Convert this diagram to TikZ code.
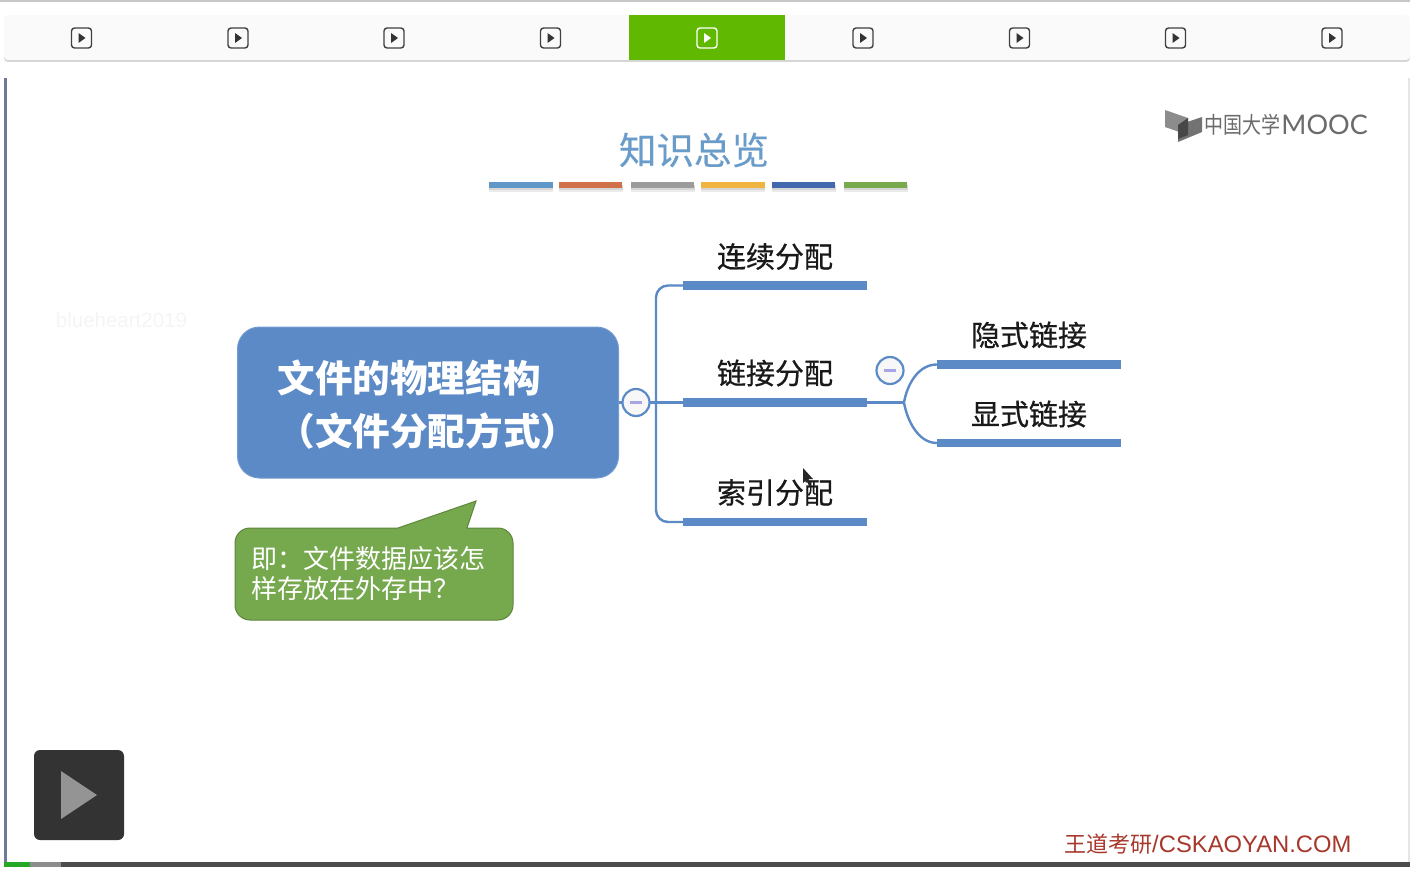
\documentclass[tikz,border=0pt]{standalone}
\usepackage{fontspec}
\usepackage{graphicx}
\setmainfont{Noto Sans CJK SC}
\newfontfamily\latinf{Liberation Sans}
\newfontfamily\logof{Lato}
\newfontfamily\semif[FakeBold=0.6]{Noto Sans CJK SC}
\newfontfamily\slightf[FakeBold=0.25]{Noto Sans CJK SC}
\definecolor{mapblue}{HTML}{5B8AC6}
\definecolor{tabgreen}{HTML}{61B800}
\definecolor{calloutgreen}{HTML}{76A84D}
\definecolor{titleblue}{HTML}{6A9CC9}
\definecolor{redmark}{HTML}{A8382C}
\definecolor{edgeblue}{HTML}{6F7A98}
\tikzset{
  x=1pt,y=-1pt,
  bar/.style={fill=mapblue,draw=none,minimum width=184pt,minimum height=8.5pt,inner sep=0pt},
  branchlabel/.style={font=\semif\fontsize{29}{30}\selectfont,text=black!90,inner sep=0pt},
  link/.style={draw=mapblue,line width=2.4pt},
  collapse/.style={circle,draw=mapblue,line width=2.2pt,fill=black!3,minimum size=27pt,inner sep=0pt},
  tabicon/.style={draw=#1,line width=1.4pt,rounded corners=3pt,minimum width=20pt,minimum height=20pt,inner sep=0pt},
  titlebar/.style={minimum width=63.5pt,minimum height=6.5pt,inner sep=0pt,draw=none},
  minusbar/.style={draw=black!30!blue!35!white,line width=2.4pt},
}
\begin{document}
\begin{tikzpicture}
\useasboundingbox (0,0) rectangle (1410,869);
\fill[white] (0,0) rectangle (1410,869);
% top rule and tab bar
\fill[black!22] (0,0) rectangle (1410,2);
\fill[black!16,rounded corners=4pt] (4,20) rectangle (1410,62);
\fill[black!2,rounded corners=4pt] (4,15) rectangle (1410,60);
\fill[tabgreen] (629,15) rectangle (785,60);
\foreach \n/\x in {a/81.5,b/238,c/394,d/550.5,f/863,g/1019.5,h/1175.5,i/1332}{
  \node[tabicon=black!75] (tab\n) at (\x,38) {};
  \fill[black!80] (\x-3,33) -- (\x+4,38) -- (\x-3,43) -- cycle;
}
\node[tabicon=white] (tabe) at (707,38) {};
\fill[white] (704,33) -- (711,38) -- (704,43) -- cycle;
% slide frame
\fill[edgeblue] (4,78) rectangle (7,862);
\fill[black!10] (1408,78) rectangle (1410,862);
\fill[black!70] (61,862) rectangle (1410,867);
\fill[black!45] (30,862) rectangle (61,867);
\fill[green!60!black!85] (4,862) rectangle (30,867);
% title
\node[font=\slightf\fontsize{37.5}{38}\selectfont,text=titleblue,inner sep=0pt] (title) at (694,150) {知识总览};
\foreach \n/\x/\c in {t1/521/5F97C8,t2/590.5/D0714A,t3/662.5/9B9B9B,t4/733/F0B440,t5/803.5/4468AE,t6/875.5/78A94C}{
  \fill[black!8] (\x-32,186) rectangle (\x+32,192);
  \fill[black!16] (\x-32,185) rectangle (\x+32,190);
  \definecolor{barc}{HTML}{\c}
  \node[titlebar,fill=barc] (\n) at (\x,185) {};
}
% logo
\fill[black!45] (1165,110) -- (1188,118) -- (1188,135) -- (1165,127) -- cycle;
\fill[black!55] (1202,117) -- (1178,125) -- (1178,142) -- (1202,132) -- cycle;
\fill[black!72] (1178,125) -- (1188,118) -- (1188,135) -- (1178,139) -- cycle;
\node[font=\fontsize{19}{20}\selectfont,text=black!58,inner sep=0pt,anchor=west] (logo) at (1204,125) {\scalebox{1}[1.2]{中国大学}};
\node[font=\logof\fontsize{27}{28}\selectfont,text=black!58,inner sep=0pt,anchor=east] (logob) at (1368,125) {MOOC};
% watermark
\node[font=\latinf\fontsize{20.5}{21}\selectfont,text=black!4,inner sep=0pt] (mark) at (121.5,320) {blueheart2019};
% main node
\node[fill=mapblue,draw=mapblue!85!white,line width=1pt,rounded corners=22pt,minimum width=381pt,minimum height=151pt,inner sep=0pt] (main) at (428,402.5) {};
\node[inner sep=0pt,text width=301pt,align=left,text=white,
  font=\fontsize{37.6}{53}\bfseries\selectfont] (maintext) at (428,404.5) {文件的物理结构\\（文件分配方式）};
% callout
\draw[fill=calloutgreen,draw=calloutgreen!80!black,line width=1pt]
  (398,528) -- (476,501) -- (467,528) -- (498,528)
  arc[start angle=-90,end angle=0,radius=15] -- (513,605)
  arc[start angle=0,end angle=90,radius=15] -- (250,620)
  arc[start angle=90,end angle=180,radius=15] -- (235,543)
  arc[start angle=180,end angle=270,radius=15] -- cycle;
\node[text=white,font=\fontsize{26}{30}\selectfont,align=left,inner sep=0pt,anchor=north west] (note) at (251,546) {即：文件数据应该怎\\样存放在外存中？};
% branches
\node[bar] (b1) at (775,285.5) {};
\node[bar] (b2) at (775,402.5) {};
\node[bar] (b3) at (775,522) {};
\node[bar] (s1) at (1029,364.5) {};
\node[bar] (s2) at (1029,443) {};
\node[branchlabel] (l1) at (775,256.5) {连续分配};
\node[branchlabel] (l2) at (775,373) {链接分配};
\node[branchlabel] (l3) at (775,492.5) {索引分配};
\node[branchlabel] (l4) at (1029,335) {隐式链接};
\node[branchlabel] (l5) at (1029,414) {显式链接};
\coordinate (trunk) at (656,402.5);
\coordinate (fork) at (904,402.5);
\draw[link] (main.east) -- (b2.west);
\draw[link,rounded corners=12pt] (b1.west) -| (trunk) |- (b3.west);
\draw[link] (b2.east) -- (fork);
\draw[link] (fork) .. controls (907,385) and (918,364.5) .. (s1.west);
\draw[link] (fork) .. controls (907,420) and (918,443) .. (s2.west);
\node[collapse] (c1) at (636,402.5) {};
\node[collapse] (c2) at (890,370.5) {};
\draw[minusbar] (630,402.5) -- (642,402.5);
\draw[minusbar] (884,370.5) -- (896,370.5);
% mouse pointer
\fill[black!85] (803,468) -- (803,483) -- (806.5,480) -- (809,486) -- (811,485) -- (808.5,479) -- (813,479) -- cycle;
% player button
\node[fill=black!80,rounded corners=6pt,minimum width=90pt,minimum height=90pt,inner sep=0pt] (play) at (79,795) {};
\fill[black!42] (61,771) -- (97,795) -- (61,819) -- cycle;
% footer
\node[font=\fontsize{22}{24}\selectfont,text=redmark,inner sep=0pt,anchor=west] (foot) at (1064,844.5) {王道考研{\latinf\fontsize{23.8}{25}\selectfont/CSKAOYAN.COM}};
\end{tikzpicture}
\end{document}
